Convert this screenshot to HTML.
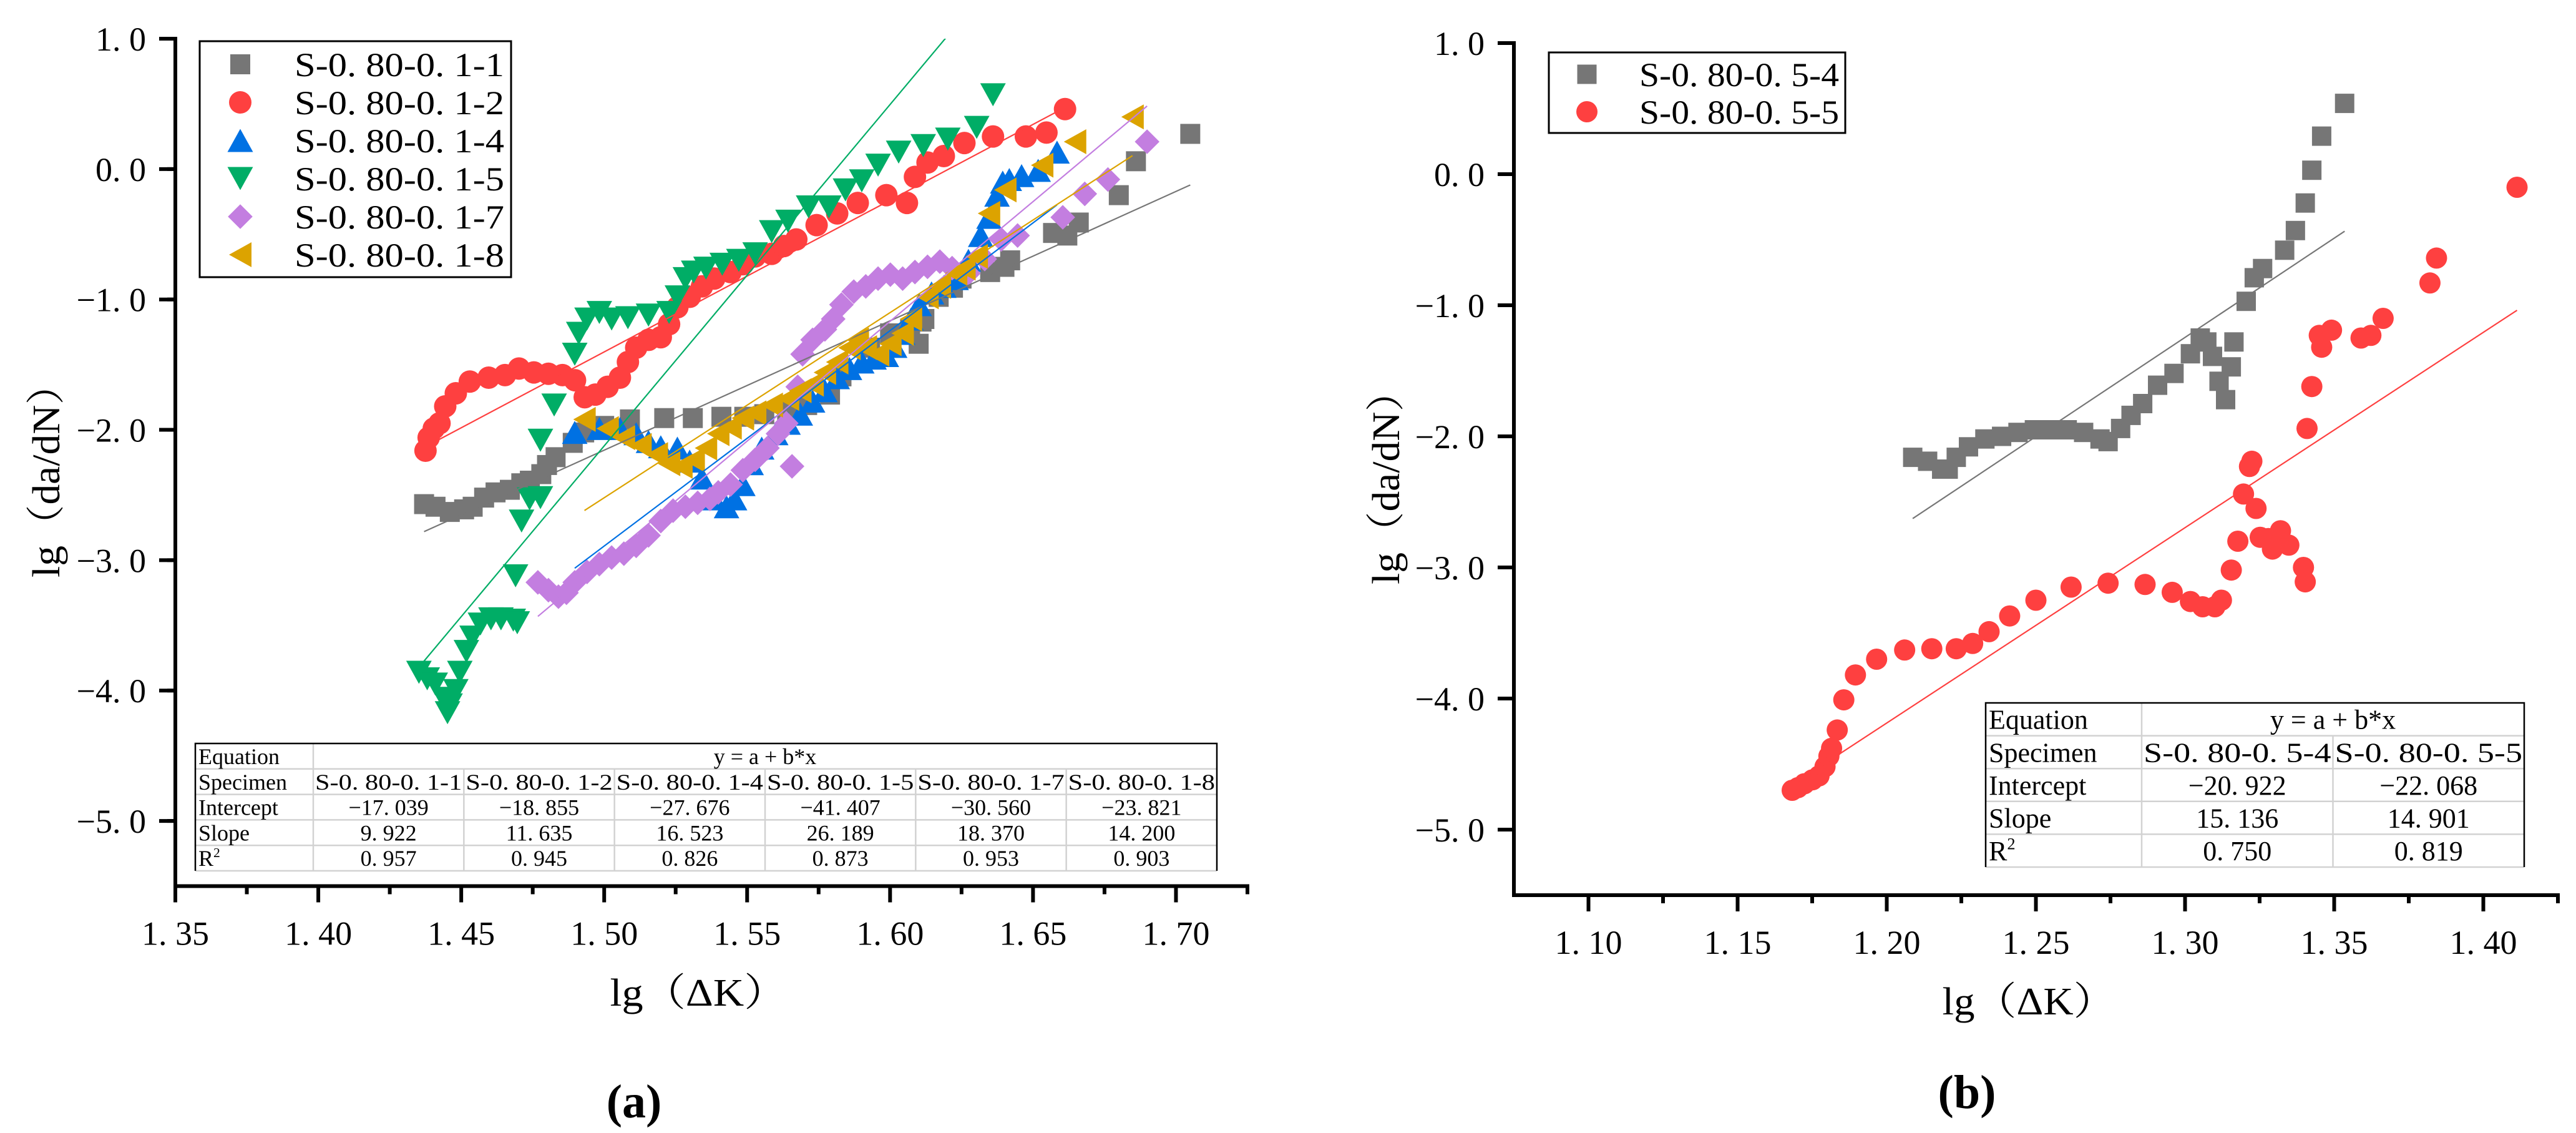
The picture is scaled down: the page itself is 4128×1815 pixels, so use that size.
<!DOCTYPE html>
<html><head><meta charset="utf-8"><style>
html,body{margin:0;padding:0;background:#fff;}
svg{display:block;}
text{font-family:"Liberation Serif","Noto Serif CJK SC",serif;fill:#000;}
</style></head><body>
<svg id="fig" xmlns="http://www.w3.org/2000/svg" width="4128" height="1815" viewBox="0 0 4128 1815">
<rect width="4128" height="1815" fill="#fff"/>
<g id="pa"></g>
<g id="pb"></g>
</svg>
<script>
// ---------- Panel (a) data ----------
const aXTicks = ["1.35","1.40","1.45","1.50","1.55","1.60","1.65","1.70"];
const aYTicks = ["1.0","0.0","-1.0","-2.0","-3.0","-4.0","-5.0"];
const a1x=[1.437,1.441,1.446,1.451,1.454,1.458,1.462,1.467,1.471,1.474,1.478,1.480,1.483,1.489,1.493,1.500,1.509,1.521,1.531,1.541,1.549,1.556,1.564,1.571,1.579,1.583,1.593,1.600,1.607,1.610,1.611,1.612,1.617,1.622,1.625,1.635,1.640,1.642,1.657,1.662,1.666,1.680,1.686,1.705];
const a1y=[-2.57,-2.59,-2.63,-2.61,-2.59,-2.52,-2.48,-2.46,-2.41,-2.39,-2.34,-2.27,-2.21,-2.10,-2.02,-1.97,-1.92,-1.91,-1.91,-1.90,-1.90,-1.88,-1.86,-1.81,-1.73,-1.59,-1.37,-1.26,-1.23,-1.34,-1.17,-1.15,-0.98,-0.91,-0.84,-0.79,-0.75,-0.70,-0.49,-0.51,-0.41,-0.20,0.06,0.27];
const a2x=[1.4375,1.4386,1.4404,1.4424,1.4444,1.4481,1.4530,1.4596,1.4653,1.4702,1.4754,1.4805,1.4854,1.4898,1.4932,1.4969,1.5012,1.5055,1.5083,1.5112,1.5155,1.5198,1.5227,1.5256,1.5299,1.5342,1.5385,1.5442,1.5485,1.5528,1.5586,1.5629,1.5672,1.5743,1.5815,1.5887,1.5987,1.6059,1.6087,1.6131,1.6188,1.6260,1.6360,1.6475,1.6547,1.6612];
const a2y=[-2.16,-2.06,-1.99,-1.95,-1.82,-1.72,-1.63,-1.60,-1.58,-1.53,-1.56,-1.57,-1.58,-1.62,-1.75,-1.73,-1.67,-1.60,-1.48,-1.37,-1.31,-1.29,-1.19,-1.06,-0.98,-0.90,-0.84,-0.79,-0.73,-0.67,-0.65,-0.59,-0.54,-0.43,-0.34,-0.26,-0.20,-0.26,-0.06,0.05,0.10,0.20,0.25,0.25,0.28,0.46];
const a4x=[1.4897,1.4983,1.5055,1.5112,1.5155,1.5198,1.5256,1.5299,1.5342,1.5385,1.5428,1.5456,1.5485,1.5514,1.5551,1.5600,1.5643,1.5686,1.5729,1.5772,1.5815,1.5858,1.5901,1.5944,1.5987,1.6016,1.6044,1.6073,1.6102,1.6145,1.6188,1.6231,1.6274,1.6317,1.6346,1.6374,1.6394,1.6417,1.6460,1.6518,1.6584];
const a4y=[-2.02,-1.99,-1.99,-2.03,-2.09,-2.13,-2.14,-2.24,-2.37,-2.53,-2.59,-2.53,-2.42,-2.26,-2.14,-2.03,-1.95,-1.88,-1.78,-1.70,-1.60,-1.53,-1.48,-1.45,-1.43,-1.36,-1.26,-1.15,-1.04,-0.95,-0.90,-0.84,-0.70,-0.51,-0.37,-0.20,-0.10,-0.08,-0.05,-0.01,0.13];
const a5x=[1.4352,1.4381,1.4409,1.4438,1.4452,1.4461,1.4481,1.4495,1.4518,1.4538,1.4567,1.4604,1.4639,1.4682,1.4696,1.4690,1.4711,1.4739,1.4777,1.4777,1.4825,1.4897,1.4911,1.4940,1.4983,1.5026,1.5083,1.5155,1.5227,1.5256,1.5284,1.5313,1.5356,1.5413,1.5471,1.5528,1.5586,1.5643,1.5715,1.5786,1.5844,1.5901,1.5958,1.6030,1.6116,1.6202,1.6303,1.6360];
const a5y=[-3.86,-3.91,-3.95,-4.06,-4.17,-4.11,-4.00,-3.86,-3.70,-3.59,-3.49,-3.45,-3.45,-3.46,-3.48,-3.12,-2.70,-2.53,-2.52,-2.08,-1.81,-1.42,-1.26,-1.15,-1.10,-1.15,-1.14,-1.12,-1.10,-0.98,-0.84,-0.79,-0.76,-0.73,-0.70,-0.65,-0.48,-0.40,-0.29,-0.29,-0.16,-0.09,0.03,0.13,0.18,0.23,0.32,0.57];
const a7x=[1.4768,1.4805,1.4840,1.4868,1.4897,1.4940,1.4983,1.5026,1.5069,1.5112,1.5155,1.5198,1.5241,1.5284,1.5327,1.5370,1.5399,1.5442,1.5485,1.5528,1.5571,1.5608,1.5637,1.5657,1.5677,1.5694,1.5729,1.5772,1.5801,1.5830,1.5873,1.5915,1.5958,1.6001,1.6044,1.6087,1.6131,1.6174,1.6217,1.6274,1.6331,1.6389,1.6446,1.6604,1.6681,1.6762,1.6899];
const a7y=[-3.17,-3.23,-3.28,-3.25,-3.17,-3.09,-3.03,-2.98,-2.95,-2.89,-2.81,-2.70,-2.62,-2.59,-2.56,-2.53,-2.48,-2.42,-2.31,-2.23,-2.14,-2.03,-1.95,-2.28,-1.67,-1.42,-1.31,-1.23,-1.15,-1.04,-0.94,-0.90,-0.84,-0.81,-0.84,-0.79,-0.75,-0.71,-0.76,-0.80,-0.69,-0.54,-0.51,-0.37,-0.19,-0.08,0.21];
const a8x=[1.4931,1.5012,1.5069,1.5127,1.5184,1.5227,1.5270,1.5313,1.5356,1.5399,1.5442,1.5485,1.5528,1.5586,1.5643,1.5686,1.5729,1.5772,1.5815,1.5858,1.5887,1.5915,1.5958,1.6001,1.6044,1.6073,1.6131,1.6174,1.6231,1.6260,1.6303,1.6346,1.6403,1.6532,1.6647,1.6848];
const a8y=[-1.92,-1.99,-2.06,-2.12,-2.19,-2.26,-2.28,-2.23,-2.14,-2.03,-1.98,-1.91,-1.87,-1.81,-1.76,-1.70,-1.65,-1.56,-1.48,-1.37,-1.31,-1.37,-1.42,-1.34,-1.26,-1.15,-0.98,-0.90,-0.80,-0.76,-0.67,-0.34,-0.16,0.03,0.21,0.40];
const aNames=["S-0.80-0.1-1","S-0.80-0.1-2","S-0.80-0.1-4","S-0.80-0.1-5","S-0.80-0.1-7","S-0.80-0.1-8"];
const aIntercepts=["-17.039","-18.855","-27.676","-41.407","-30.560","-23.821"];
const aSlopes=["9.922","11.635","16.523","26.189","18.370","14.200"];
const aR2=["0.957","0.945","0.826","0.873","0.953","0.903"];

// ---------- Panel (b) data ----------
const bXTicks=["1.10","1.15","1.20","1.25","1.30","1.35","1.40"];
const bYTicks=["1.0","0.0","-1.0","-2.0","-3.0","-4.0","-5.0"];
const b4x=[1.2087,1.2137,1.2184,1.2206,1.2233,1.2274,1.2329,1.2385,1.2440,1.2495,1.2550,1.2605,1.2660,1.2715,1.2742,1.2784,1.2819,1.2858,1.2908,1.2963,1.3018,1.3051,1.3073,1.3092,1.3114,1.3136,1.3155,1.3164,1.3205,1.3232,1.3260,1.3334,1.3370,1.3403,1.3425,1.3458,1.3535];
const b4y=[-2.16,-2.19,-2.25,-2.25,-2.16,-2.08,-2.02,-2.00,-1.97,-1.95,-1.95,-1.95,-1.97,-2.02,-2.04,-1.94,-1.84,-1.75,-1.61,-1.52,-1.37,-1.25,-1.28,-1.39,-1.58,-1.72,-1.47,-1.28,-0.97,-0.79,-0.72,-0.58,-0.43,-0.22,0.03,0.29,0.54];
const b5x=[1.1683,1.1702,1.1724,1.1751,1.1773,1.1793,1.1806,1.1815,1.1834,1.1856,1.1895,1.1966,1.2060,1.2151,1.2233,1.2288,1.2343,1.2412,1.2500,1.2618,1.2742,1.2866,1.2957,1.3018,1.3059,1.3100,1.3122,1.3155,1.3177,1.3196,1.3216,1.3224,1.3238,1.3252,1.3279,1.3293,1.3320,1.3348,1.3397,1.3403,1.3409,1.3425,1.3450,1.3458,1.3491,1.3590,1.3623,1.3664,1.3821,1.3843,1.4113];
const b5y=[-4.70,-4.68,-4.65,-4.62,-4.59,-4.52,-4.44,-4.38,-4.24,-4.01,-3.82,-3.70,-3.63,-3.62,-3.62,-3.58,-3.49,-3.37,-3.25,-3.15,-3.12,-3.13,-3.19,-3.26,-3.30,-3.30,-3.25,-3.02,-2.80,-2.44,-2.23,-2.19,-2.55,-2.77,-2.78,-2.86,-2.72,-2.83,-3.00,-3.11,-1.94,-1.62,-1.23,-1.32,-1.19,-1.25,-1.23,-1.10,-0.83,-0.64,-0.10];
const bNames=["S-0.80-0.5-4","S-0.80-0.5-5"];
const bIntercepts=["-20.922","-22.068"];
const bSlopes=["15.136","14.901"];
const bR2=["0.750","0.819"];

const NS="http://www.w3.org/2000/svg";
function mk(parent,tag,attrs,txt){const e=document.createElementNS(NS,tag);for(const k in attrs)e.setAttribute(k,attrs[k]);if(txt!==undefined)e.textContent=txt;parent.appendChild(e);return e;}
function sp(s){return s.replace(/\./g,". ");}

function marker(g,shape,cx,cy,col,s){
  let e;
  if(shape==="sq"){e=mk(g,"rect",{x:cx-s/2,y:cy-s/2,width:s,height:s,fill:col});}
  else if(shape==="ci"){e=mk(g,"circle",{cx:cx,cy:cy,r:s/2,fill:col});}
  else if(shape==="up"){const h=s*0.9;e=mk(g,"polygon",{points:`${cx-s/2},${cy+h/2} ${cx+s/2},${cy+h/2} ${cx},${cy-h/2}`,fill:col});}
  else if(shape==="dn"){const h=s*0.9;e=mk(g,"polygon",{points:`${cx-s/2},${cy-h/2} ${cx+s/2},${cy-h/2} ${cx},${cy+h/2}`,fill:col});}
  else if(shape==="di"){const r=s*0.55;e=mk(g,"polygon",{points:`${cx},${cy-r} ${cx+r},${cy} ${cx},${cy+r} ${cx-r},${cy}`,fill:col});}
  else if(shape==="lt"){const w=s*0.9;e=mk(g,"polygon",{points:`${cx+w/2},${cy-s/2} ${cx+w/2},${cy+s/2} ${cx-w/2},${cy}`,fill:col});}
  return e;
}

function drawPanel(cfg){
  const g=document.getElementById(cfg.id);
  const X=v=>cfg.x0+(v-cfg.xmin)/(cfg.xmax-cfg.xmin)*(cfg.x1-cfg.x0);
  const Y=v=>cfg.y0+(cfg.ymax-v)/(cfg.ymax-cfg.ymin)*(cfg.y1-cfg.y0);
  const clipId=cfg.id+"clip";
  const defs=mk(g,"defs",{});
  const cp=mk(defs,"clipPath",{id:clipId});
  mk(cp,"rect",{x:cfg.x0,y:cfg.y0,width:cfg.x1-cfg.x0,height:cfg.y1-cfg.y0});
  // series + fits
  const sg=mk(g,"g",{"clip-path":`url(#${clipId})`});
  
  
  cfg.series.forEach((s,i)=>{
    const grp=mk(sg,"g",{});
    
    
    for(let k=0;k<s.x.length;k++){
      const m=marker(grp,s.shape,X(s.x[k]),Y(s.y[k]),s.color,s.size);
      
      
    }
  });
  cfg.series.forEach((s,i)=>{
    const a=parseFloat(cfg.inter[i]),b=parseFloat(cfg.slope[i]);
    const xa=Math.min(...s.x),xb=Math.max(...s.x);
    const ln=mk(sg,"line",{x1:X(xa),y1:Y(a+b*xa),x2:X(xb),y2:Y(a+b*xb),stroke:s.color,"stroke-width":2.2});
    
    
  });
  // axes
  const ax=mk(g,"g",{});
  
  
  mk(ax,"line",{x1:cfg.x0,y1:cfg.y0-3,x2:cfg.x0,y2:cfg.y1+3,stroke:"#000","stroke-width":6});
  mk(ax,"line",{x1:cfg.x0-3,y1:cfg.y1,x2:cfg.x1+3,y2:cfg.y1,stroke:"#000","stroke-width":6});
  // y ticks
  cfg.yTicks.forEach(t=>{
    const v=parseFloat(t),y=Y(v);
    mk(ax,"line",{x1:cfg.x0-26,y1:y,x2:cfg.x0,y2:y,stroke:"#000","stroke-width":6});
    const tx=mk(ax,"text",{x:cfg.x0-47,y:y+19,"font-size":54,"text-anchor":"end"},sp(t).replace("-","−"));
    
    
  });
  for(let v=cfg.ymin+0.5;v<cfg.ymax;v+=1){const y=Y(v);mk(ax,"line",{x1:cfg.x0-13,y1:y,x2:cfg.x0,y2:y,stroke:"#000","stroke-width":6});}
  cfg.xTicks.forEach(t=>{
    const v=parseFloat(t),x=X(v);
    mk(ax,"line",{x1:x,y1:cfg.y1,x2:x,y2:cfg.y1+26,stroke:"#000","stroke-width":6});
    mk(ax,"line",{x1:x+(X(v+0.025)-x),y1:cfg.y1,x2:x+(X(v+0.025)-x),y2:cfg.y1+13,stroke:"#000","stroke-width":6});
    const tx=mk(ax,"text",{x:x,y:cfg.y1+cfg.xlabOff,"font-size":54,"text-anchor":"middle"},sp(t));
    
    
  });
  mk(ax,"line",{x1:X(cfg.xmin+0.025)+0,y1:cfg.y1,x2:X(cfg.xmin+0.025),y2:cfg.y1+13,stroke:"#000","stroke-width":6});
  // titles
  const yt=mk(g,"text",{x:0,y:0,"font-size":62,"text-anchor":"middle",transform:`translate(${cfg.ytX},${cfg.ytY}) rotate(-90)`,textLength:342,lengthAdjust:"spacingAndGlyphs"},"lg（da/dN）");
  
  
  const xt=mk(g,"text",{x:cfg.xtX,y:cfg.xtY,"font-size":62,"text-anchor":"middle",textLength:cfg.xtW,lengthAdjust:"spacingAndGlyphs"},"lg（ΔK）");
  
  
  const pl=mk(g,"text",{x:cfg.plX,y:cfg.plY,"font-size":76,"font-weight":"bold","text-anchor":"middle"},cfg.panelLabel);
  
  
  // legend
  const L=cfg.legend;
  const lg=mk(g,"g",{});
  
  
  mk(lg,"rect",{x:L.x,y:L.y,width:L.w,height:L.h,fill:"#fff",stroke:"#000","stroke-width":3});
  cfg.series.forEach((s,i)=>{
    const ey=L.y+L.first+i*L.step;
    const eg=mk(lg,"g",{});
    
    
    marker(eg,s.shape,L.mx,ey,s.color,s.size);
    mk(eg,"text",{x:L.tx,y:ey+19,"font-size":54,textLength:L.tw,lengthAdjust:"spacingAndGlyphs"},sp(s.name));
  });
  // table
  const T=cfg.table;
  const tg=mk(g,"g",{});
  
  
  const n=cfg.series.length, cw=(T.x1-T.x0-T.c0)/n, rh=(T.y1-T.y0)/5;
  mk(tg,"rect",{x:T.x0,y:T.y0,width:T.x1-T.x0,height:T.y1-T.y0,fill:"#fff"});
  for(let r=1;r<=5;r++)mk(tg,"line",{x1:T.x0,y1:T.y0+r*rh,x2:T.x1,y2:T.y0+r*rh,stroke:"#d2d2d2","stroke-width":2.5});
  mk(tg,"line",{x1:T.x0+T.c0,y1:T.y0,x2:T.x0+T.c0,y2:T.y1,stroke:"#d2d2d2","stroke-width":2.5});
  for(let c=1;c<n;c++)mk(tg,"line",{x1:T.x0+T.c0+c*cw,y1:T.y0+rh,x2:T.x0+T.c0+c*cw,y2:T.y1,stroke:"#d2d2d2","stroke-width":2.5});
  mk(tg,"polyline",{points:`${T.x0},${T.y1} ${T.x0},${T.y0} ${T.x1},${T.y0} ${T.x1},${T.y1}`,fill:"none",stroke:"#000","stroke-width":2.5});
  const fs=T.fs, base=r=>T.y0+r*rh+rh*0.5+fs*0.35;
  const labels=["Equation","Specimen","Intercept","Slope","R"];
  labels.forEach((l,r)=>{
    const t=mk(tg,"text",{x:T.x0+5,y:base(r),"font-size":fs},l);
    if(r===4)mk(t,"tspan",{dy:-fs*0.4,"font-size":fs*0.6},"2");
    
    
  });
  mk(tg,"text",{x:T.x0+T.c0+(T.x1-T.x0-T.c0)/2,y:base(0),"font-size":fs,"text-anchor":"middle"},"y = a + b*x");
  cfg.series.forEach((s,i)=>{
    const cx=T.x0+T.c0+(i+0.5)*cw;
    mk(tg,"text",{x:cx,y:base(1),"font-size":fs,"text-anchor":"middle",textLength:cw-6,lengthAdjust:"spacingAndGlyphs"},sp(s.name));
    mk(tg,"text",{x:cx,y:base(2),"font-size":fs,"text-anchor":"middle"},sp(cfg.inter[i]).replace("-","−"));
    mk(tg,"text",{x:cx,y:base(3),"font-size":fs,"text-anchor":"middle"},sp(cfg.slope[i]));
    mk(tg,"text",{x:cx,y:base(4),"font-size":fs,"text-anchor":"middle"},sp(cfg.r2[i]));
  });
}

drawPanel({id:"pa",x0:281,x1:1999,y0:62,y1:1419.5,xmin:1.35,xmax:1.725,ymin:-5.5,ymax:1.0,
  xTicks:aXTicks,yTicks:aYTicks,xlabOff:94,
  series:[
    {name:aNames[0],x:a1x,y:a1y,shape:"sq",color:"#767676",size:32},
    {name:aNames[1],x:a2x,y:a2y,shape:"ci",color:"#fe4040",size:36},
    {name:aNames[2],x:a4x,y:a4y,shape:"up",color:"#0071e3",size:41},
    {name:aNames[3],x:a5x,y:a5y,shape:"dn",color:"#00ad66",size:41},
    {name:aNames[4],x:a7x,y:a7y,shape:"di",color:"#c37ee0",size:36},
    {name:aNames[5],x:a8x,y:a8y,shape:"lt",color:"#dca300",size:40}],
  inter:aIntercepts,slope:aSlopes,r2:aR2,
  ytX:95,ytY:754,xtX:1119,xtY:1611,xtW:283,plX:1016,plY:1790,panelLabel:"(a)",
  legend:{x:320,y:66,w:499,h:378,first:37,step:61,mx:385,tx:472,tw:336},
  table:{x0:313,x1:1950,y0:1191,y1:1395,c0:189,fs:36}
});
drawPanel({id:"pb",x0:2426,x1:4099,y0:69,y1:1434,xmin:1.075,xmax:1.425,ymin:-5.5,ymax:1.0,
  xTicks:bXTicks,yTicks:bYTicks,xlabOff:94,
  series:[
    {name:bNames[0],x:b4x,y:b4y,shape:"sq",color:"#767676",size:31},
    {name:bNames[1],x:b5x,y:b5y,shape:"ci",color:"#fe4040",size:34}],
  inter:bIntercepts,slope:bSlopes,r2:bR2,
  ytX:2242,ytY:765,xtX:3251,xtY:1625,xtW:277,plX:3152,plY:1775,panelLabel:"(b)",
  legend:{x:2482,y:84,w:475,h:129,first:35,step:60,mx:2543,tx:2627,tw:320},
  table:{x0:3182,x1:4045,y0:1126,y1:1389,c0:250,fs:44}
});
</script>
</body></html>
